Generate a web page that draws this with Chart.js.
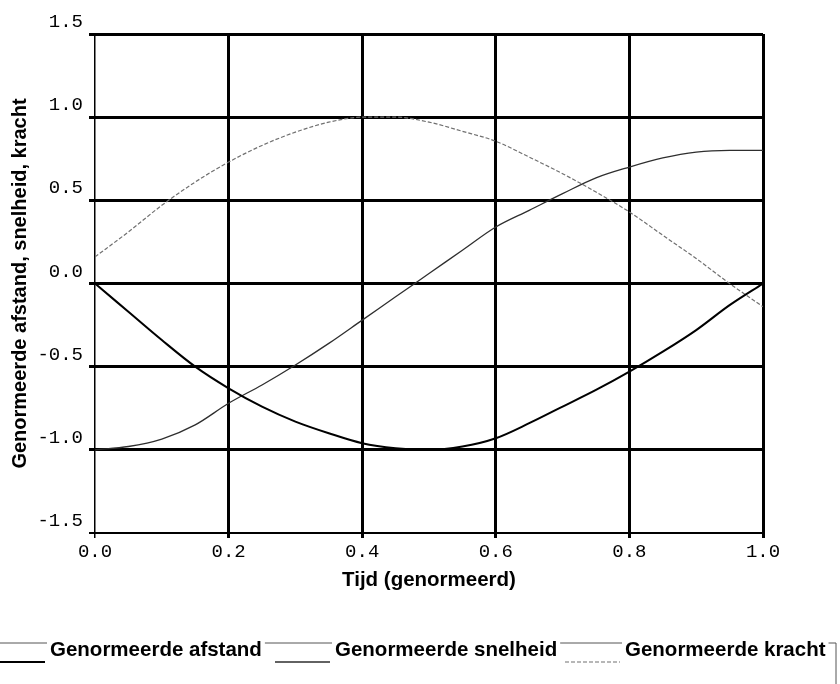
<!DOCTYPE html>
<html>
<head>
<meta charset="utf-8">
<script src="https://cdn.jsdelivr.net/npm/chart.js@4.4.1/dist/chart.umd.min.js"></script>
<style>
  html, body { margin: 0; padding: 0; background: #fff; }
  canvas { display: block; }
</style>
</head>
<body>
<canvas id="chart" width="840" height="684"></canvas>
<script>
// Normalised time and the three normalised quantities
const tijd = [0, 0.05, 0.1, 0.15, 0.2, 0.25, 0.3, 0.35, 0.4, 0.45, 0.5,
              0.55, 0.6, 0.65, 0.7, 0.75, 0.8, 0.85, 0.9, 0.95, 1.0];
const afstand = [0, -0.17, -0.34, -0.50, -0.63, -0.74, -0.83, -0.90, -0.96, -0.99, -1.0,
                 -0.98, -0.93, -0.84, -0.74, -0.64, -0.53, -0.41, -0.28, -0.13, 0];
const snelheid = [-1.0, -0.98, -0.935, -0.85, -0.72, -0.61, -0.49, -0.36, -0.22, -0.08, 0.06,
                  0.20, 0.34, 0.44, 0.54, 0.635, 0.70, 0.755, 0.79, 0.80, 0.80];
const kracht = [0.16, 0.31, 0.47, 0.61, 0.73, 0.83, 0.91, 0.97, 1.0, 1.0, 0.97,
                0.915, 0.855, 0.76, 0.66, 0.55, 0.43, 0.29, 0.15, 0.0, -0.14];

const seriesNames = ['Genormeerde afstand', 'Genormeerde snelheid', 'Genormeerde kracht'];

const xTickValues = [0, 0.2, 0.4, 0.6, 0.8, 1.0];
const xTickLabels = ['0.0', '0.2', '0.4', '0.6', '0.8', '1.0'];
const yTickValues = [-1.5, -1.0, -0.5, 0, 0.5, 1.0, 1.5];
const yTickLabels = ['-1.5', '-1.0', '-0.5', '0.0', '0.5', '1.0', '1.5'];

const toPoints = ys => tijd.map((x, i) => ({ x, y: ys[i] }));

const monoFont = '"Liberation Mono", "Courier New", monospace';
const sansFont = '"Liberation Sans", Arial, Helvetica, sans-serif';

// Legend row under the plot: sample line below each label, framed by a thin border
const legendRow = {
  id: 'legendRow',
  afterDraw(chart) {
    const ctx = chart.ctx;
    const textX = [50, 335, 625];
    const textY = 650, sampleY = 662, frameY = 643, frameRight = 836;
    ctx.save();
    ctx.font = 'bold 20.5px ' + sansFont;
    ctx.textBaseline = 'middle';
    ctx.textAlign = 'left';
    const spans = [];
    chart.data.datasets.forEach((ds, i) => {
      const x = textX[i];
      const w = ctx.measureText(ds.label).width;
      spans.push([x - 3, x + w + 3]);
      ctx.fillStyle = '#000';
      ctx.fillText(ds.label, x, textY);
      ctx.beginPath();
      ctx.strokeStyle = ds.borderColor;
      ctx.lineWidth = ds.borderWidth;
      ctx.setLineDash(ds.borderDash || []);
      ctx.moveTo(x - 60, sampleY);
      ctx.lineTo(x - 5, sampleY);
      ctx.stroke();
    });
    ctx.setLineDash([]);
    ctx.strokeStyle = '#555';
    ctx.lineWidth = 1;
    ctx.beginPath();
    let start = 0;
    spans.forEach(([a, b]) => {
      ctx.moveTo(start, frameY);
      ctx.lineTo(a, frameY);
      start = b;
    });
    ctx.moveTo(start, frameY);
    ctx.lineTo(frameRight, frameY);
    ctx.lineTo(frameRight, 684);
    ctx.stroke();
    ctx.restore();
  }
};

new Chart(document.getElementById('chart'), {
  type: 'line',
  data: {
    datasets: [
      {
        label: seriesNames[0],
        data: toPoints(afstand),
        borderColor: '#000000',
        borderWidth: 2,
        borderDash: []
      },
      {
        label: seriesNames[1],
        data: toPoints(snelheid),
        borderColor: '#2e2e2e',
        borderWidth: 1.3,
        borderDash: []
      },
      {
        label: seriesNames[2],
        data: toPoints(kracht),
        borderColor: '#707070',
        borderWidth: 1.2,
        borderDash: [4, 2]
      }
    ]
  },
  options: {
    responsive: false,
    animation: false,
    layout: { padding: { left: 0, right: 77, top: 34, bottom: 91 } },
    elements: {
      point: { radius: 0 },
      line: { cubicInterpolationMode: 'monotone', fill: false }
    },
    plugins: {
      legend: { display: false },
      tooltip: { enabled: false }
    },
    scales: {
      x: {
        type: 'linear',
        min: 0,
        max: 1,
        afterBuildTicks: s => { s.ticks = xTickValues.map(v => ({ value: v })); },
        afterFit: s => { s.height = 60; },
        ticks: {
          autoSkip: false,
          maxRotation: 0,
          padding: 3,
          color: '#000',
          font: { family: monoFont, size: 19 },
          callback: (v, i) => xTickLabels[i]
        },
        grid: {
          color: '#000',
          lineWidth: c => (c.tick && c.tick.value === 0 ? 1.5 : 3),
          tickLength: 5
        },
        border: { display: false },
        title: {
          display: true,
          text: 'Tijd (genormeerd)',
          color: '#000',
          font: { family: sansFont, size: 20.5, weight: 'bold' },
          padding: { top: 0, bottom: 0 }
        }
      },
      y: {
        type: 'linear',
        min: -1.5,
        max: 1.5,
        afterBuildTicks: s => { s.ticks = yTickValues.map(v => ({ value: v })); },
        afterFit: s => { s.width = 95; },
        ticks: {
          autoSkip: false,
          padding: 6,
          labelOffset: -12,
          color: '#000',
          font: { family: monoFont, size: 19 },
          callback: (v, i) => yTickLabels[i]
        },
        grid: {
          color: '#000',
          lineWidth: c => (c.tick && c.tick.value === -1.5 ? 2 : 3),
          tickLength: 6
        },
        border: { display: false },
        title: {
          display: true,
          text: 'Genormeerde afstand, snelheid, kracht',
          color: '#000',
          font: { family: sansFont, size: 20, weight: 'bold' },
          padding: { top: 8, bottom: 0 }
        }
      }
    }
  },
  plugins: [legendRow]
});
</script>
</body>
</html>
